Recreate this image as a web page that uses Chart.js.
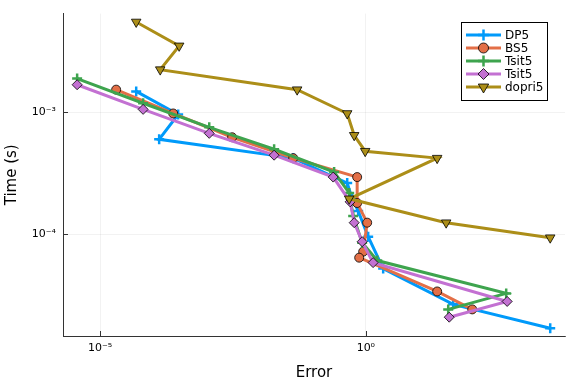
<!DOCTYPE html>
<html>
<head>
<meta charset="utf-8">
<script src="https://cdn.jsdelivr.net/npm/chart.js@4.4.0/dist/chart.umd.min.js"></script>
<style>
  html, body { margin: 0; padding: 0; background: #fff; }
  canvas { display: block; }
</style>
</head>
<body>
<canvas id="chart" width="576" height="384"></canvas>
<script>
// Work-precision data (error vs. time in seconds)
const dp5Err   = [4.77e-5, 2.94e-4, 1.29e-4, 0.043, 0.446, 0.553, 0.718, 1.107, 2.12, 44.1, 2951];
const dp5Time  = [1.49e-3, 9.63e-4, 6.01e-4, 4.21e-4, 2.63e-4, 1.95e-4, 1.55e-4, 9.51e-5, 5.20e-5, 2.64e-5, 1.68e-5];

const bs5Err   = [2.0e-5, 2.37e-4, 3.05e-3, 0.043, 0.687, 0.687, 1.06, 0.891, 0.750, 22.0, 100.5];
const bs5Time  = [1.54e-3, 9.81e-4, 6.25e-4, 4.21e-4, 2.94e-4, 1.80e-4, 1.24e-4, 7.16e-5, 6.39e-5, 3.37e-5, 2.40e-5];

const tsitAErr  = [3.69e-6, 6.44e-5, 1.13e-3, 0.0188, 0.253, 0.486, 0.578, 0.853, 1.64, 438, 35.5];
const tsitATime = [1.90e-3, 1.19e-3, 7.54e-4, 4.98e-4, 3.23e-4, 2.18e-4, 1.41e-4, 8.49e-5, 6.05e-5, 3.25e-5, 2.40e-5];

const tsitBErr  = [3.69e-6, 6.44e-5, 1.13e-3, 0.0188, 0.243, 0.507, 0.604, 0.853, 1.37, 457, 37.1];
const tsitBTime = [1.69e-3, 1.06e-3, 6.73e-4, 4.45e-4, 2.94e-4, 1.84e-4, 1.24e-4, 8.65e-5, 5.82e-5, 2.79e-5, 2.07e-5];

const dopriErr  = [4.77e-5, 3.07e-4, 1.35e-4, 0.051, 0.446, 0.604, 0.972, 22.0, 0.486, 32.5, 2951];
const dopriTime = [5.55e-3, 3.53e-3, 2.25e-3, 1.54e-3, 9.81e-4, 6.49e-4, 4.80e-4, 4.21e-4, 1.95e-4, 1.24e-4, 9.33e-5];

const seriesNames = ['DP5', 'BS5', 'Tsit5', 'Tsit5', 'dopri5'];
const xTicks = [1e-5, 1];
const yTicks = [1e-4, 1e-3];

const supers = { '-': '⁻', '0': '⁰', '1': '¹', '2': '²', '3': '³', '4': '⁴', '5': '⁵', '6': '⁶', '7': '⁷', '8': '⁸', '9': '⁹' };
function powLabel(v) {
  const e = String(Math.round(Math.log10(v)));
  return '10' + e.split('').map(c => supers[c]).join('');
}

function pairs(xs, ys) {
  return xs.map((x, i) => ({ x: x, y: ys[i] }));
}

const styles = [
  { color: '#009AFA', pointStyle: 'cross', radius: 5, borderWidth: 2.5, rotation: 0, edge: '#009AFA' },
  { color: '#E36F47', pointStyle: 'circle', radius: 4.5, borderWidth: 0.8, rotation: 0, edge: '#000' },
  { color: '#3EA44E', pointStyle: 'cross', radius: 5, borderWidth: 2.5, rotation: 0, edge: '#3EA44E' },
  { color: '#C371D2', pointStyle: 'rectRot', radius: 5, borderWidth: 0.8, rotation: 0, edge: '#000' },
  { color: '#AC8E18', pointStyle: 'triangle', radius: 5.5, borderWidth: 0.8, rotation: 180, edge: '#000' }
];

const allData = [
  pairs(dp5Err, dp5Time),
  pairs(bs5Err, bs5Time),
  pairs(tsitAErr, tsitATime),
  pairs(tsitBErr, tsitBTime),
  pairs(dopriErr, dopriTime)
];

const datasets = allData.map((d, i) => ({
  label: seriesNames[i],
  data: d,
  borderColor: styles[i].color,
  backgroundColor: styles[i].color,
  borderWidth: 3,
  pointStyle: styles[i].pointStyle,
  pointRadius: styles[i].radius,
  pointRotation: styles[i].rotation,
  pointBackgroundColor: styles[i].color,
  pointBorderColor: styles[i].edge,
  pointBorderWidth: styles[i].borderWidth,
  tension: 0,
  fill: false,
  order: 5 - i
}));

// inward tick marks like the original plotting backend
const innerTicks = {
  id: 'innerTicks',
  afterDatasetsDraw(chart) {
    const ctx = chart.ctx;
    const a = chart.chartArea;
    ctx.save();
    ctx.strokeStyle = '#333';
    ctx.lineWidth = 1;
    xTicks.forEach(v => {
      const px = Math.round(chart.scales.x.getPixelForValue(v)) + 0.5;
      ctx.beginPath();
      ctx.moveTo(px, a.bottom);
      ctx.lineTo(px, a.bottom - 5);
      ctx.stroke();
    });
    yTicks.forEach(v => {
      const py = Math.round(chart.scales.y.getPixelForValue(v)) + 0.5;
      ctx.beginPath();
      ctx.moveTo(a.left, py);
      ctx.lineTo(a.left + 5, py);
      ctx.stroke();
    });
    ctx.restore();
  }
};

// legend with line + marker samples
const lineLegend = {
  id: 'lineLegend',
  afterDraw(chart) {
    const ctx = chart.ctx;
    const bx = 461, by = 22, bw = 86, bh = 78;
    ctx.save();
    ctx.fillStyle = '#fff';
    ctx.fillRect(bx, by, bw, bh);
    ctx.strokeStyle = '#000';
    ctx.lineWidth = 1;
    ctx.strokeRect(bx + 0.5, by + 0.5, bw, bh);
    ctx.font = '12px "DejaVu Sans", sans-serif';
    ctx.textBaseline = 'middle';
    seriesNames.forEach((name, i) => {
      const y = by + 13 + i * 13;
      const s = styles[i];
      ctx.strokeStyle = s.color;
      ctx.lineWidth = 3;
      ctx.beginPath();
      ctx.moveTo(466, y);
      ctx.lineTo(501, y);
      ctx.stroke();
      ctx.fillStyle = s.color;
      ctx.strokeStyle = s.edge;
      ctx.lineWidth = s.borderWidth;
      Chart.helpers.drawPoint(ctx, { pointStyle: s.pointStyle, radius: s.radius + 0.5, rotation: s.rotation, borderWidth: s.borderWidth }, 483.5, y);
      ctx.fillStyle = '#000';
      ctx.fillText(name, 505, y + 0.5);
    });
    ctx.restore();
  }
};

new Chart(document.getElementById('chart'), {
  type: 'line',
  data: { datasets: datasets },
  plugins: [innerTicks, lineLegend],
  options: {
    responsive: false,
    animation: false,
    devicePixelRatio: 1,
    layout: { padding: { top: 12, right: 11, left: 0, bottom: 0 } },
    plugins: {
      legend: { display: false },
      tooltip: { enabled: false }
    },
    scales: {
      x: {
        type: 'logarithmic',
        min: 2.0e-6,
        max: 5.6e3,
        afterBuildTicks: s => { s.ticks = xTicks.map(v => ({ value: v })); },
        afterFit: s => { s.height = 48; },
        grid: { color: 'rgba(0,0,0,0.1)', lineWidth: 0.5, drawTicks: false },
        border: { display: true, color: '#333', width: 1 },
        ticks: {
          autoSkip: false,
          maxRotation: 0,
          padding: 6,
          color: '#000',
          font: { family: '"DejaVu Sans", sans-serif', size: 11 },
          callback: v => powLabel(v)
        },
        title: {
          display: true,
          text: 'Error',
          color: '#000',
          font: { family: '"DejaVu Sans", sans-serif', size: 15 },
          padding: { top: 0, bottom: 2 }
        }
      },
      y: {
        type: 'logarithmic',
        min: 1.45e-5,
        max: 6.5e-3,
        afterBuildTicks: s => { s.ticks = yTicks.map(v => ({ value: v })); },
        afterFit: s => { s.width = 63; },
        grid: { color: 'rgba(0,0,0,0.1)', lineWidth: 0.5, drawTicks: false },
        border: { display: true, color: '#333', width: 1 },
        ticks: {
          autoSkip: false,
          padding: 7,
          color: '#000',
          font: { family: '"DejaVu Sans", sans-serif', size: 11 },
          callback: v => powLabel(v)
        },
        title: {
          display: true,
          text: 'Time (s)',
          color: '#000',
          font: { family: '"DejaVu Sans", sans-serif', size: 15 },
          padding: { top: 3, bottom: 4 }
        }
      }
    }
  }
});
</script>
</body>
</html>
